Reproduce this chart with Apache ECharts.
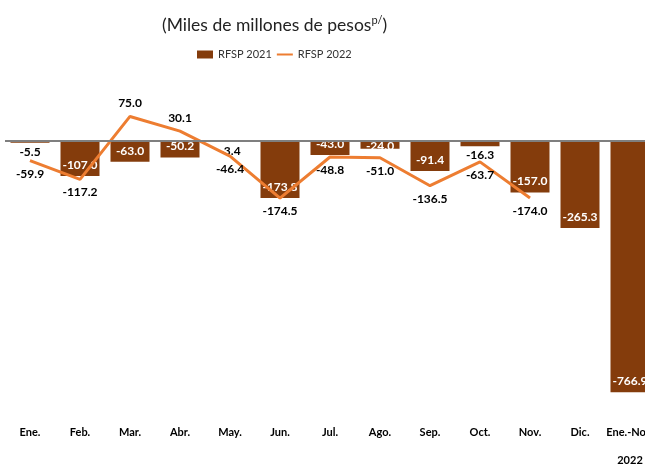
<!DOCTYPE html>
<html>
<head>
<meta charset="utf-8">
<script src="https://cdn.jsdelivr.net/npm/echarts@6/dist/echarts.min.js"></script>
<style>
  html, body { margin: 0; padding: 0; background: #fff; }
  #chart { width: 645px; height: 465px; }
</style>
</head>
<body>
<div id="chart"></div>
<script>
// categorias y valores (miles de millones de pesos)
const months = ['Ene.', 'Feb.', 'Mar.', 'Abr.', 'May.', 'Jun.', 'Jul.', 'Ago.', 'Sep.', 'Oct.', 'Nov.', 'Dic.', 'Ene.-Nov.\n2022']
const rfsp2021 = [-5.5, -107.0, -63.0, -50.2, -3.4, -173.8, -43.0, -24.0, -91.4, -16.3, -157.0, -265.3, -766.9]
const rfsp2022 = [-59.9, -117.2, 75.0, 30.1, -46.4, -174.5, -48.8, -51.0, -136.5, -63.7, -174.0, null, null]

const font = 'Lato, "DejaVu Sans", sans-serif'

// barras chicas llevan la etiqueta afuera, en negro
const barData = rfsp2021.map(v => {
  if (Math.abs(v) < 20) {
    return { value: v, label: { position: 'bottom', color: '#000', distance: 3 }}
  }
  if (Math.abs(v) < 30) {
    return { value: v, label: { distance: -3 }}
  }
  return v
})

const lineData = rfsp2022.map(v => {
  if (v === null) return v
  return { value: v, label: { position: v >= 0 ? 'top' : 'bottom' }}
})

const chart = echarts.init(document.getElementById('chart'))
chart.setOption({
  animation: false,
  title: {
    text: '(Miles de millones de pesos{sup|p/})',
    left: 157,
    top: 10,
    textStyle: {
      fontFamily: font,
      fontSize: 17.5,
      fontWeight: 'normal',
      color: '#222',
      rich: {
        sup: { fontFamily: font, fontSize: 11, verticalAlign: 'top', color: '#222', padding: [0, 0, 9, 0] }
      }
    }
  },
  legend: {
    left: 192,
    top: 44,
    itemWidth: 16,
    itemHeight: 8,
    itemGap: 4,
    textStyle: { fontFamily: font, fontSize: 11, color: '#333' },
    data: [
      { name: 'RFSP 2021', icon: 'rect' },
      { name: 'RFSP 2022', itemStyle: { opacity: 0 }}
    ]
  },
  grid: { left: 5, width: 650, top: 75.5, bottom: 62, outerBoundsMode: 'none' },
  xAxis: {
    type: 'category',
    data: months,
    position: 'bottom',
    axisLine: { show: false, onZero: false },
    axisTick: { show: false },
    axisLabel: { interval: 0, fontFamily: font, fontSize: 11, fontWeight: 'bold', color: '#000', margin: 15, lineHeight: 28 }
  },
  yAxis: {
    type: 'value',
    min: -800,
    max: 200,
    show: false,
    splitLine: { show: false }
  },
  series: [
    {
      name: 'RFSP 2021',
      type: 'bar',
      barWidth: '78%',
      data: barData,
      itemStyle: { color: '#843c0c' },
      label: {
        show: true,
        position: 'insideBottom',
        distance: 5,
        color: '#fff',
        fontFamily: font,
        fontSize: 12,
        fontWeight: 'bold',
        formatter: p => p.value.toFixed(1)
      },
      markLine: {
        silent: true,
        symbol: 'none',
        label: { show: false },
        lineStyle: { color: '#7f7f7f', width: 2, type: 'solid' },
        data: [{ yAxis: 0 }]
      }
    },
    {
      name: 'RFSP 2022',
      type: 'line',
      data: lineData,
      symbol: 'circle',
      symbolSize: 0.1,
      showSymbol: true,
      lineStyle: { color: '#ed7d31', width: 3 },
      itemStyle: { color: '#ed7d31' },
      label: {
        show: true,
        distance: 7,
        color: '#000',
        fontFamily: font,
        fontSize: 12,
        fontWeight: 'bold',
        formatter: p => p.value.toFixed(1)
      }
    }
  ]
})
</script>
</body>
</html>
